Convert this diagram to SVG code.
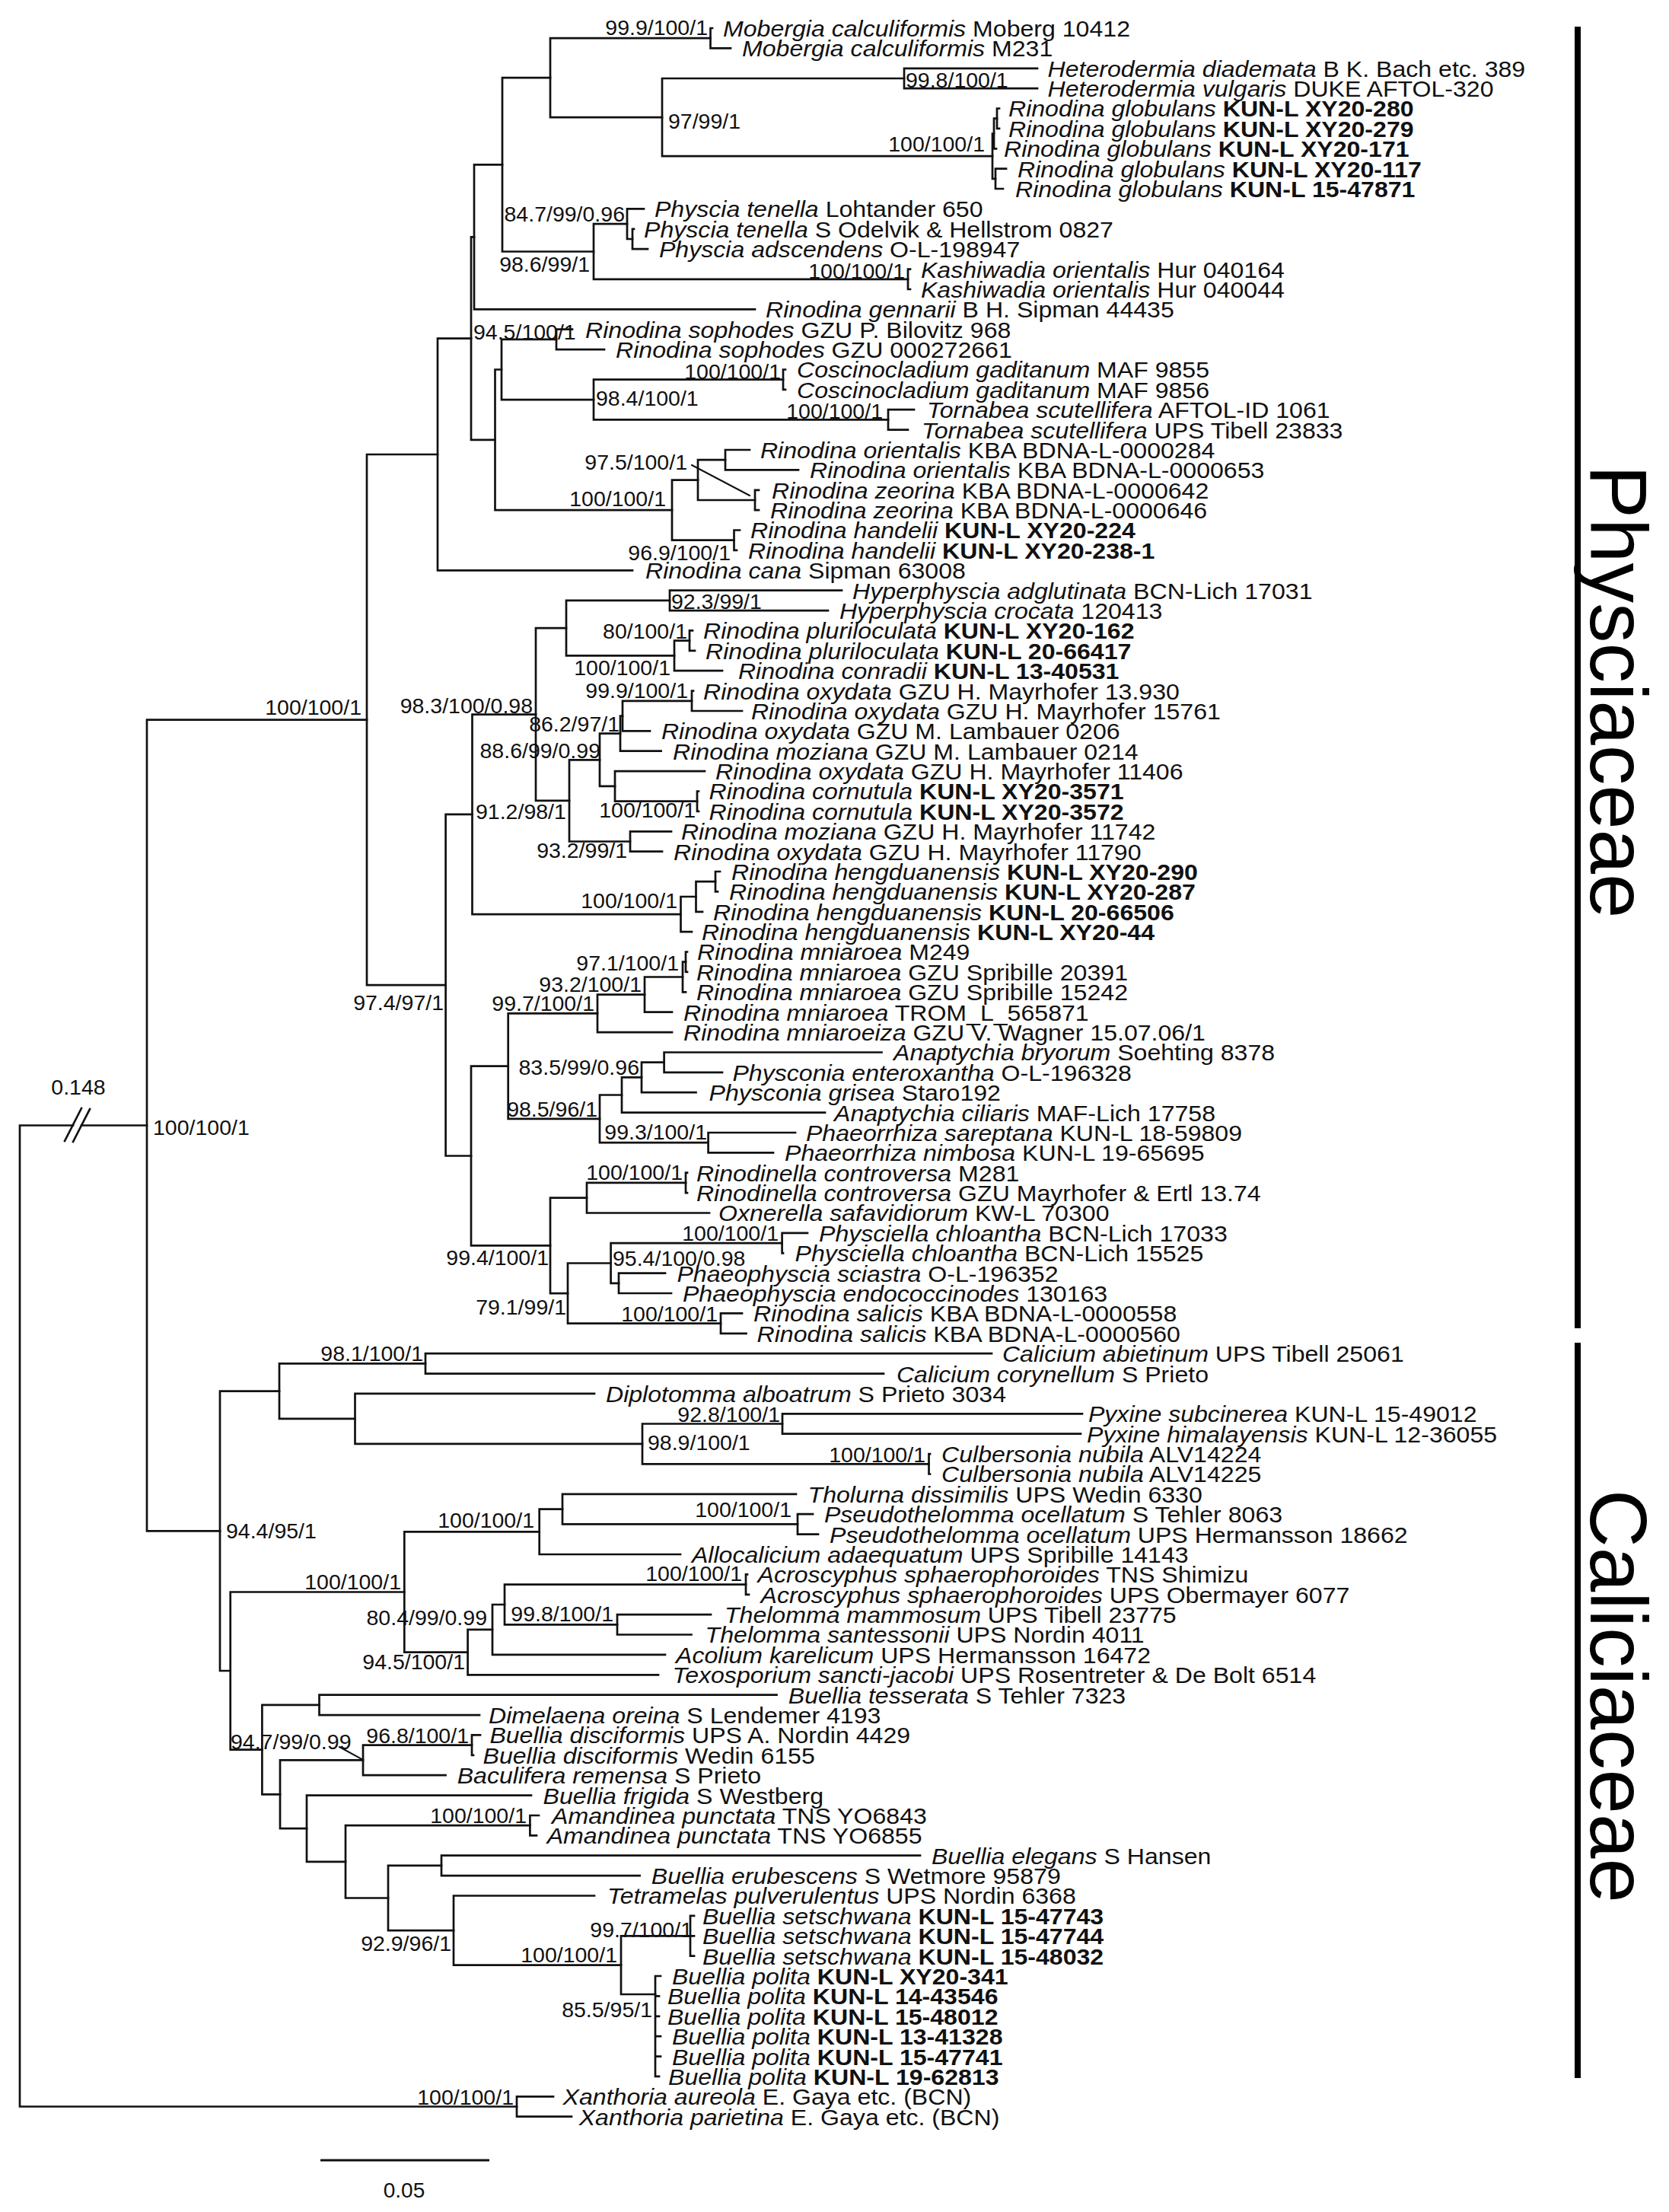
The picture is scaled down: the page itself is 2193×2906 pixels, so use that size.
<svg xmlns="http://www.w3.org/2000/svg" width="2193" height="2906" viewBox="0 0 2193 2906">
<style>
.b{stroke:#111;stroke-width:2.7;fill:none;stroke-linecap:square}
.ld{stroke:#111;stroke-width:2;fill:none}
.n{font-family:"Liberation Sans",Arial,sans-serif;font-size:28.5px;fill:#111}
.t{font-family:"Liberation Sans",Arial,sans-serif;font-size:30px;fill:#111}
.i{font-style:italic}
.k{font-weight:bold}
.fam{font-family:"Liberation Sans",Arial,sans-serif;font-size:105px;fill:#000}
</style>
<rect width="2193" height="2906" fill="#fff"/>
<g id="connectors" class="b">
<path d="M26 1478.5V2767.5M26 1478.5H96M107 1478.5H193M26 2767.5H679"/>
<path d="M85 1499L107 1456M96 1500L118 1457"/>
<path d="M193 945.6V2011.4M193 945.6H482M193 2011.4H289"/>
<path d="M482 597V1294.2M482 597H575M482 1294.2H585.6"/>
<path d="M575 444.6V749.3M575 444.6H619M575 749.3H831"/>
<path d="M619 311.4V577.9M619 311.4H623M619 577.9H650.5"/>
<path d="M623 216.4V406.3M623 216.4H660M623 406.3H992"/>
<path d="M660 102.2V330.5M660 102.2H723M660 330.5H780"/>
<path d="M723 50.2V154.1M723 50.2H933.5M723 154.1H870"/>
<path d="M933.5 37V63.4M933.5 37H936M933.5 63.4H960"/>
<path d="M870 103V205.2M870 103H1188M870 205.2H1304"/>
<path d="M1188 89.8V116.1M1188 89.8H1363M1188 116.1H1363"/>
<path d="M1304 175.5V234.9M1304 175.5H1306M1304 234.9H1308"/>
<path d="M1306 155.7V195.3M1306 155.7H1310M1306 195.3H1309"/>
<path d="M1310 142.5V168.9M1310 142.5H1313M1310 168.9H1313"/>
<path d="M1308 221.7V248M1308 221.7H1322M1308 248H1318"/>
<path d="M780 294.2V366.8M780 294.2H824M780 366.8H1193"/>
<path d="M824 274.4V314M824 274.4H846M824 314H831"/>
<path d="M831 300.8V327.2M831 300.8H833M831 327.2H851"/>
<path d="M1193 353.6V380M1193 353.6H1196M1193 380H1196"/>
<path d="M650.5 485.5V670.2M650.5 485.5H659M650.5 670.2H883"/>
<path d="M659 445.9V525.1M659 445.9H731M659 525.1H780"/>
<path d="M731 432.7V459.1M731 432.7H752M731 459.1H794"/>
<path d="M780 498.7V551.4M780 498.7H1029M780 551.4H1167"/>
<path d="M1029 485.5V511.9M1029 485.5H1032M1029 511.9H1032"/>
<path d="M1167 538.2V564.6M1167 538.2H1201M1167 564.6H1193"/>
<path d="M883 630.6V709.7M883 630.6H917M883 709.7H964.5"/>
<path d="M917 604.2V657M917 604.2H953M917 657H992"/>
<path d="M953 591V617.4M953 591H985M953 617.4H1049"/>
<path d="M992 643.8V670.1M992 643.8H997M992 670.1H997"/>
<path d="M964.5 696.5V722.9M964.5 696.5H972M964.5 722.9H968"/>
<path d="M585.6 1069.9V1518.5M585.6 1069.9H620.5M585.6 1518.5H619"/>
<path d="M620.5 938.6V1201.1M620.5 938.6H704M620.5 1201.1H894.5"/>
<path d="M704 825.2V1051.9M704 825.2H744M704 1051.9H748"/>
<path d="M744 788.9V861.4M744 788.9H880M744 861.4H886"/>
<path d="M880 775.7V802.1M880 775.7H1106M880 802.1H1088"/>
<path d="M886 841.6V881.2M886 841.6H906M886 881.2H949"/>
<path d="M906 828.4V854.8M906 828.4H910M906 854.8H913"/>
<path d="M748 998.3V1105.5M748 998.3H788M748 1105.5H828"/>
<path d="M788 963.6V1032.9M788 963.6H815M788 1032.9H808"/>
<path d="M815 940.6V986.7M815 940.6H818M815 986.7H868.6"/>
<path d="M818 920.8V960.3M818 920.8H909M818 960.3H854"/>
<path d="M909 907.6V934M909 907.6H911M909 934H975"/>
<path d="M808 1013.1V1052.7M808 1013.1H926M808 1052.7H916"/>
<path d="M916 1039.5V1065.9M916 1039.5H918M916 1065.9H918"/>
<path d="M828 1092.3V1118.6M828 1092.3H882M828 1118.6H870"/>
<path d="M894.5 1178V1224.2M894.5 1178H914.5M894.5 1224.2H909"/>
<path d="M914.5 1158.2V1197.8M914.5 1158.2H940M914.5 1197.8H923"/>
<path d="M940 1145V1171.4M940 1145H946M940 1171.4H943"/>
<path d="M619 1400.6V1636.4M619 1400.6H667.7M619 1636.4H723"/>
<path d="M667.7 1331.3V1469.9M667.7 1331.3H785M667.7 1469.9H788"/>
<path d="M785 1306.6V1356.1M785 1306.6H847M785 1356.1H883"/>
<path d="M847 1283.5V1329.7M847 1283.5H897M847 1329.7H883"/>
<path d="M897 1263.7V1303.3M897 1263.7H901M897 1303.3H901"/>
<path d="M901 1250.5V1276.9M901 1250.5H903M901 1276.9H903"/>
<path d="M788 1438.5V1501.2M788 1438.5H817M788 1501.2H930.6"/>
<path d="M817 1415.4V1461.6M817 1415.4H843M817 1461.6H1084"/>
<path d="M843 1395.6V1435.2M843 1395.6H872.6M843 1435.2H914.5"/>
<path d="M872.6 1382.5V1408.8M872.6 1382.5H1158.5M872.6 1408.8H949"/>
<path d="M930.6 1488V1514.4M930.6 1488H1045M930.6 1514.4H1016"/>
<path d="M723 1573.7V1699.1M723 1573.7H771M723 1699.1H746"/>
<path d="M771 1553.9V1593.5M771 1553.9H901M771 1593.5H932"/>
<path d="M901 1540.7V1567.1M901 1540.7H903M901 1567.1H903"/>
<path d="M746 1659.5V1738.6M746 1659.5H802.6M746 1738.6H947"/>
<path d="M802.6 1633.1V1685.9M802.6 1633.1H1027.6M802.6 1685.9H813"/>
<path d="M1027.6 1619.9V1646.3M1027.6 1619.9H1061M1027.6 1646.3H1029"/>
<path d="M813 1672.7V1699M813 1672.7H874M813 1699H882"/>
<path d="M947 1725.4V1751.8M947 1725.4H975M947 1751.8H980.5"/>
<path d="M289 1827.7V2195M289 1827.7H367M289 2195H302.7"/>
<path d="M367 1791.4V1863.9M367 1791.4H559M367 1863.9H466.5"/>
<path d="M559 1778.2V1804.6M559 1778.2H1303M559 1804.6H1161"/>
<path d="M466.5 1830.9V1896.9M466.5 1830.9H781M466.5 1896.9H844"/>
<path d="M844 1870.5V1923.3M844 1870.5H1028M844 1923.3H1220.5"/>
<path d="M1028 1857.3V1883.7M1028 1857.3H1422M1028 1883.7H1420"/>
<path d="M1220.5 1910.1V1936.5M1220.5 1910.1H1222M1220.5 1936.5H1222"/>
<path d="M302.7 2091.5V2298.6M302.7 2091.5H531.3M302.7 2298.6H344.4"/>
<path d="M531.3 2012.3V2170.6M531.3 2012.3H708.7M531.3 2170.6H614.6"/>
<path d="M708.7 1982.7V2042M708.7 1982.7H739M708.7 2042H894"/>
<path d="M739 1962.9V2002.4M739 1962.9H1046M739 2002.4H1048"/>
<path d="M1048 1989.2V2015.6M1048 1989.2H1068M1048 2015.6H1075"/>
<path d="M614.6 2140.9V2200.3M614.6 2140.9H647M614.6 2200.3H865"/>
<path d="M647 2108V2173.9M647 2108H663M647 2173.9H874"/>
<path d="M663 2081.6V2134.3M663 2081.6H980M663 2134.3H811"/>
<path d="M980 2068.4V2094.8M980 2068.4H982M980 2094.8H984"/>
<path d="M811 2121.1V2147.5M811 2121.1H934M811 2147.5H908.5"/>
<path d="M344.4 2239.9V2357.3M344.4 2239.9H419.5M344.4 2357.3H368"/>
<path d="M419.5 2226.7V2253.1M419.5 2226.7H1020.5M419.5 2253.1H630"/>
<path d="M368 2312.4V2402.2M368 2312.4H477M368 2402.2H403"/>
<path d="M477 2292.6V2332.2M477 2292.6H620M477 2332.2H585.5"/>
<path d="M620 2279.4V2305.8M620 2279.4H631M620 2305.8H622"/>
<path d="M403 2358.6V2445.9M403 2358.6H698M403 2445.9H454"/>
<path d="M454 2398.2V2493.5M454 2398.2H696.4M454 2493.5H510"/>
<path d="M696.4 2385V2411.4M696.4 2385H708M696.4 2411.4H705"/>
<path d="M510 2450.9V2536.1M510 2450.9H580M510 2536.1H596"/>
<path d="M580 2437.7V2464.1M580 2437.7H1209M580 2464.1H840.6"/>
<path d="M596 2490.5V2581.7M596 2490.5H781M596 2581.7H816"/>
<path d="M816 2543.3V2620M816 2543.3H907M816 2620H861"/>
<path d="M907 2516.9V2569.6M907 2516.9H912M907 2543.3H912M907 2569.6H912"/>
<path d="M861 2596V2727.9M861 2596H868M861 2622.4H866M861 2648.8H866M861 2675.2H868M861 2701.6H868M861 2727.9H866"/>
<path d="M679 2754.3V2780.7M679 2754.3H727M679 2780.7H751"/>
<path class="ld" d="M909 611L985 651M446 2295L475 2311"/>
</g>
<g id="support-labels" class="n">
<text x="103" y="1438" text-anchor="middle">0.148</text>
<text x="201" y="1491">100/100/1</text>
<text x="475" y="939" text-anchor="end">100/100/1</text>
<text x="930" y="46" text-anchor="end">99.9/100/1</text>
<text x="1190" y="115">99.8/100/1</text>
<text x="878" y="169">97/99/1</text>
<text x="1294" y="199" text-anchor="end">100/100/1</text>
<text x="821" y="291" text-anchor="end">84.7/99/0.96</text>
<text x="775" y="357" text-anchor="end">98.6/99/1</text>
<text x="1189" y="366" text-anchor="end">100/100/1</text>
<text x="622" y="446">94.5/100/1</text>
<text x="1026" y="498" text-anchor="end">100/100/1</text>
<text x="783" y="533">98.4/100/1</text>
<text x="1160" y="550" text-anchor="end">100/100/1</text>
<text x="903" y="617" text-anchor="end">97.5/100/1</text>
<text x="875" y="665" text-anchor="end">100/100/1</text>
<text x="960" y="736" text-anchor="end">96.9/100/1</text>
<text x="882" y="800">92.3/99/1</text>
<text x="903" y="839" text-anchor="end">80/100/1</text>
<text x="881" y="887" text-anchor="end">100/100/1</text>
<text x="700" y="937" text-anchor="end">98.3/100/0.98</text>
<text x="904" y="917" text-anchor="end">99.9/100/1</text>
<text x="814" y="961" text-anchor="end">86.2/97/1</text>
<text x="789" y="996" text-anchor="end">88.6/99/0.99</text>
<text x="625" y="1076">91.2/98/1</text>
<text x="914" y="1074" text-anchor="end">100/100/1</text>
<text x="824" y="1127" text-anchor="end">93.2/99/1</text>
<text x="890" y="1193" text-anchor="end">100/100/1</text>
<text x="583" y="1327" text-anchor="end">97.4/97/1</text>
<text x="892" y="1275" text-anchor="end">97.1/100/1</text>
<text x="843" y="1303" text-anchor="end">93.2/100/1</text>
<text x="781" y="1328" text-anchor="end">99.7/100/1</text>
<text x="840" y="1412" text-anchor="end">83.5/99/0.96</text>
<text x="785" y="1467" text-anchor="end">98.5/96/1</text>
<text x="929" y="1497" text-anchor="end">99.3/100/1</text>
<text x="897" y="1550" text-anchor="end">100/100/1</text>
<text x="1023" y="1630" text-anchor="end">100/100/1</text>
<text x="805" y="1663">95.4/100/0.98</text>
<text x="721" y="1662" text-anchor="end">99.4/100/1</text>
<text x="744" y="1727" text-anchor="end">79.1/99/1</text>
<text x="943" y="1736" text-anchor="end">100/100/1</text>
<text x="556" y="1788" text-anchor="end">98.1/100/1</text>
<text x="1025" y="1868" text-anchor="end">92.8/100/1</text>
<text x="851" y="1905">98.9/100/1</text>
<text x="1216" y="1921" text-anchor="end">100/100/1</text>
<text x="297" y="2021">94.4/95/1</text>
<text x="702" y="2007" text-anchor="end">100/100/1</text>
<text x="527" y="2088" text-anchor="end">100/100/1</text>
<text x="1040" y="1993" text-anchor="end">100/100/1</text>
<text x="975" y="2077" text-anchor="end">100/100/1</text>
<text x="806" y="2130" text-anchor="end">99.8/100/1</text>
<text x="640" y="2135" text-anchor="end">80.4/99/0.99</text>
<text x="611" y="2193" text-anchor="end">94.5/100/1</text>
<text x="303" y="2298">94.7/99/0.99</text>
<text x="616" y="2290" text-anchor="end">96.8/100/1</text>
<text x="692" y="2395" text-anchor="end">100/100/1</text>
<text x="593" y="2563" text-anchor="end">92.9/96/1</text>
<text x="910" y="2545" text-anchor="end">99.7/100/1</text>
<text x="811" y="2578" text-anchor="end">100/100/1</text>
<text x="857" y="2650" text-anchor="end">85.5/95/1</text>
<text x="675" y="2765" text-anchor="end">100/100/1</text>
</g>
<g id="taxa" class="t" transform="scale(1.07 1)">
<g id="taxon-1"><text x="887.9" y="48"><tspan class="i">Mobergia calculiformis</tspan> Moberg 10412</text></g>
<g id="taxon-2"><text x="911.2" y="74.4"><tspan class="i">Mobergia calculiformis</tspan> M231</text></g>
<g id="taxon-3"><text x="1286.5" y="100.8"><tspan class="i">Heterodermia diademata</tspan> B K. Bach etc. 389</text></g>
<g id="taxon-4"><text x="1286.5" y="127.1"><tspan class="i">Heterodermia vulgaris</tspan> DUKE AFTOL-320</text></g>
<g id="taxon-5"><text x="1238.3" y="153.5"><tspan class="i">Rinodina globulans</tspan> <tspan class="k">KUN-L XY20-280</tspan></text></g>
<g id="taxon-6"><text x="1238.3" y="179.9"><tspan class="i">Rinodina globulans</tspan> <tspan class="k">KUN-L XY20-279</tspan></text></g>
<g id="taxon-7"><text x="1232.7" y="206.3"><tspan class="i">Rinodina globulans</tspan> <tspan class="k">KUN-L XY20-171</tspan></text></g>
<g id="taxon-8"><text x="1249.5" y="232.7"><tspan class="i">Rinodina globulans</tspan> <tspan class="k">KUN-L XY20-117</tspan></text></g>
<g id="taxon-9"><text x="1246.7" y="259"><tspan class="i">Rinodina globulans</tspan> <tspan class="k">KUN-L 15-47871</tspan></text></g>
<g id="taxon-10"><text x="803.7" y="285.4"><tspan class="i">Physcia tenella</tspan> Lohtander 650</text></g>
<g id="taxon-11"><text x="790.7" y="311.8"><tspan class="i">Physcia tenella</tspan> S Odelvik &amp; Hellstrom 0827</text></g>
<g id="taxon-12"><text x="809.3" y="338.2"><tspan class="i">Physcia adscendens</tspan> O-L-198947</text></g>
<g id="taxon-13"><text x="1130.8" y="364.6"><tspan class="i">Kashiwadia orientalis</tspan> Hur 040164</text></g>
<g id="taxon-14"><text x="1130.8" y="391"><tspan class="i">Kashiwadia orientalis</tspan> Hur 040044</text></g>
<g id="taxon-15"><text x="940.2" y="417.3"><tspan class="i">Rinodina gennarii</tspan> B H. Sipman 44435</text></g>
<g id="taxon-16"><text x="718.7" y="443.7"><tspan class="i">Rinodina sophodes</tspan> GZU P. Bilovitz 968</text></g>
<g id="taxon-17"><text x="756.1" y="470.1"><tspan class="i">Rinodina sophodes</tspan> GZU 000272661</text></g>
<g id="taxon-18"><text x="978.5" y="496.5"><tspan class="i">Coscinocladium gaditanum</tspan> MAF 9855</text></g>
<g id="taxon-19"><text x="978.5" y="522.9"><tspan class="i">Coscinocladium gaditanum</tspan> MAF 9856</text></g>
<g id="taxon-20"><text x="1138.3" y="549.2"><tspan class="i">Tornabea scutellifera</tspan> AFTOL-ID 1061</text></g>
<g id="taxon-21"><text x="1131.8" y="575.6"><tspan class="i">Tornabea scutellifera</tspan> UPS Tibell 23833</text></g>
<g id="taxon-22"><text x="933.6" y="602"><tspan class="i">Rinodina orientalis</tspan> KBA BDNA-L-0000284</text></g>
<g id="taxon-23"><text x="994.4" y="628.4"><tspan class="i">Rinodina orientalis</tspan> KBA BDNA-L-0000653</text></g>
<g id="taxon-24"><text x="947.7" y="654.8"><tspan class="i">Rinodina zeorina</tspan> KBA BDNA-L-0000642</text></g>
<g id="taxon-25"><text x="945.8" y="681.1"><tspan class="i">Rinodina zeorina</tspan> KBA BDNA-L-0000646</text></g>
<g id="taxon-26"><text x="921.5" y="707.5"><tspan class="i">Rinodina handelii</tspan> <tspan class="k">KUN-L XY20-224</tspan></text></g>
<g id="taxon-27"><text x="918.7" y="733.9"><tspan class="i">Rinodina handelii</tspan> <tspan class="k">KUN-L XY20-238-1</tspan></text></g>
<g id="taxon-28"><text x="792.5" y="760.3"><tspan class="i">Rinodina cana</tspan> Sipman 63008</text></g>
<g id="taxon-29"><text x="1046.7" y="786.7"><tspan class="i">Hyperphyscia adglutinata</tspan> BCN-Lich 17031</text></g>
<g id="taxon-30"><text x="1030.8" y="813.1"><tspan class="i">Hyperphyscia crocata</tspan> 120413</text></g>
<g id="taxon-31"><text x="863.6" y="839.4"><tspan class="i">Rinodina pluriloculata</tspan> <tspan class="k">KUN-L XY20-162</tspan></text></g>
<g id="taxon-32"><text x="866.4" y="865.8"><tspan class="i">Rinodina pluriloculata</tspan> <tspan class="k">KUN-L 20-66417</tspan></text></g>
<g id="taxon-33"><text x="906.5" y="892.2"><tspan class="i">Rinodina conradii</tspan> <tspan class="k">KUN-L 13-40531</tspan></text></g>
<g id="taxon-34"><text x="863.6" y="918.6"><tspan class="i">Rinodina oxydata</tspan> GZU H. Mayrhofer 13.930</text></g>
<g id="taxon-35"><text x="922.4" y="945"><tspan class="i">Rinodina oxydata</tspan> GZU H. Mayrhofer 15761</text></g>
<g id="taxon-36"><text x="812.1" y="971.3"><tspan class="i">Rinodina oxydata</tspan> GZU M. Lambauer 0206</text></g>
<g id="taxon-37"><text x="826.2" y="997.7"><tspan class="i">Rinodina moziana</tspan> GZU M. Lambauer 0214</text></g>
<g id="taxon-38"><text x="878.5" y="1024.1"><tspan class="i">Rinodina oxydata</tspan> GZU H. Mayrhofer 11406</text></g>
<g id="taxon-39"><text x="870.6" y="1050.5"><tspan class="i">Rinodina cornutula</tspan> <tspan class="k">KUN-L XY20-3571</tspan></text></g>
<g id="taxon-40"><text x="870.6" y="1076.9"><tspan class="i">Rinodina cornutula</tspan> <tspan class="k">KUN-L XY20-3572</tspan></text></g>
<g id="taxon-41"><text x="836.4" y="1103.3"><tspan class="i">Rinodina moziana</tspan> GZU H. Mayrhofer 11742</text></g>
<g id="taxon-42"><text x="827.1" y="1129.6"><tspan class="i">Rinodina oxydata</tspan> GZU H. Mayrhofer 11790</text></g>
<g id="taxon-43"><text x="898.1" y="1156"><tspan class="i">Rinodina hengduanensis</tspan> <tspan class="k">KUN-L XY20-290</tspan></text></g>
<g id="taxon-44"><text x="895.3" y="1182.4"><tspan class="i">Rinodina hengduanensis</tspan> <tspan class="k">KUN-L XY20-287</tspan></text></g>
<g id="taxon-45"><text x="875.7" y="1208.8"><tspan class="i">Rinodina hengduanensis</tspan> <tspan class="k">KUN-L 20-66506</tspan></text></g>
<g id="taxon-46"><text x="861.7" y="1235.2"><tspan class="i">Rinodina hengduanensis</tspan> <tspan class="k">KUN-L XY20-44</tspan></text></g>
<g id="taxon-47"><text x="856.1" y="1261.5"><tspan class="i">Rinodina mniaroea</tspan> M249</text></g>
<g id="taxon-48"><text x="855.1" y="1287.9"><tspan class="i">Rinodina mniaroea</tspan> GZU Spribille 20391</text></g>
<g id="taxon-49"><text x="855.1" y="1314.3"><tspan class="i">Rinodina mniaroea</tspan> GZU Spribille 15242</text></g>
<g id="taxon-50"><text x="839.3" y="1340.7"><tspan class="i">Rinodina mniaroea</tspan> TROM_L_565871</text></g>
<g id="taxon-51"><text x="839.3" y="1367.1"><tspan class="i">Rinodina mniaroeiza</tspan> GZU V. Wagner 15.07.06/1</text></g>
<g id="taxon-52"><text x="1097.2" y="1393.5"><tspan class="i">Anaptychia bryorum</tspan> Soehting 8378</text></g>
<g id="taxon-53"><text x="899.5" y="1419.8"><tspan class="i">Physconia enteroxantha</tspan> O-L-196328</text></g>
<g id="taxon-54"><text x="870.6" y="1446.2"><tspan class="i">Physconia grisea</tspan> Staro192</text></g>
<g id="taxon-55"><text x="1024.3" y="1472.6"><tspan class="i">Anaptychia ciliaris</tspan> MAF-Lich 17758</text></g>
<g id="taxon-56"><text x="989.7" y="1499"><tspan class="i">Phaeorrhiza sareptana</tspan> KUN-L 18-59809</text></g>
<g id="taxon-57"><text x="963.6" y="1525.4"><tspan class="i">Phaeorrhiza nimbosa</tspan> KUN-L 19-65695</text></g>
<g id="taxon-58"><text x="855.1" y="1551.7"><tspan class="i">Rinodinella controversa</tspan> M281</text></g>
<g id="taxon-59"><text x="855.1" y="1578.1"><tspan class="i">Rinodinella controversa</tspan> GZU Mayrhofer &amp; Ertl 13.74</text></g>
<g id="taxon-60"><text x="882.2" y="1604.5"><tspan class="i">Oxnerella safavidiorum</tspan> KW-L 70300</text></g>
<g id="taxon-61"><text x="1005.6" y="1630.9"><tspan class="i">Physciella chloantha</tspan> BCN-Lich 17033</text></g>
<g id="taxon-62"><text x="976.2" y="1657.3"><tspan class="i">Physciella chloantha</tspan> BCN-Lich 15525</text></g>
<g id="taxon-63"><text x="831.3" y="1683.7"><tspan class="i">Phaeophyscia sciastra</tspan> O-L-196352</text></g>
<g id="taxon-64"><text x="838.3" y="1710"><tspan class="i">Phaeophyscia endococcinodes</tspan> 130163</text></g>
<g id="taxon-65"><text x="925.2" y="1736.4"><tspan class="i">Rinodina salicis</tspan> KBA BDNA-L-0000558</text></g>
<g id="taxon-66"><text x="929.5" y="1762.8"><tspan class="i">Rinodina salicis</tspan> KBA BDNA-L-0000560</text></g>
<g id="taxon-67"><text x="1230.8" y="1789.2"><tspan class="i">Calicium abietinum</tspan> UPS Tibell 25061</text></g>
<g id="taxon-68"><text x="1100.9" y="1815.6"><tspan class="i">Calicium corynellum</tspan> S Prieto</text></g>
<g id="taxon-69"><text x="743.9" y="1841.9"><tspan class="i">Diplotomma alboatrum</tspan> S Prieto 3034</text></g>
<g id="taxon-70"><text x="1336.4" y="1868.3"><tspan class="i">Pyxine subcinerea</tspan> KUN-L 15-49012</text></g>
<g id="taxon-71"><text x="1334.6" y="1894.7"><tspan class="i">Pyxine himalayensis</tspan> KUN-L 12-36055</text></g>
<g id="taxon-72"><text x="1156.1" y="1921.1"><tspan class="i">Culbersonia nubila</tspan> ALV14224</text></g>
<g id="taxon-73"><text x="1156.1" y="1947.5"><tspan class="i">Culbersonia nubila</tspan> ALV14225</text></g>
<g id="taxon-74"><text x="992.1" y="1973.9"><tspan class="i">Tholurna dissimilis</tspan> UPS Wedin 6330</text></g>
<g id="taxon-75"><text x="1012.1" y="2000.2"><tspan class="i">Pseudothelomma ocellatum</tspan> S Tehler 8063</text></g>
<g id="taxon-76"><text x="1018.7" y="2026.6"><tspan class="i">Pseudothelomma ocellatum</tspan> UPS Hermansson 18662</text></g>
<g id="taxon-77"><text x="849.5" y="2053"><tspan class="i">Allocalicium adaequatum</tspan> UPS Spribille 14143</text></g>
<g id="taxon-78"><text x="930.4" y="2079.4"><tspan class="i">Acroscyphus sphaerophoroides</tspan> TNS Shimizu</text></g>
<g id="taxon-79"><text x="934.1" y="2105.8"><tspan class="i">Acroscyphus sphaerophoroides</tspan> UPS Obermayer 6077</text></g>
<g id="taxon-80"><text x="889.7" y="2132.1"><tspan class="i">Thelomma mammosum</tspan> UPS Tibell 23775</text></g>
<g id="taxon-81"><text x="866" y="2158.5"><tspan class="i">Thelomma santessonii</tspan> UPS Nordin 4011</text></g>
<g id="taxon-82"><text x="829.9" y="2184.9"><tspan class="i">Acolium karelicum</tspan> UPS Hermansson 16472</text></g>
<g id="taxon-83"><text x="825.7" y="2211.3"><tspan class="i">Texosporium sancti-jacobi</tspan> UPS Rosentreter &amp; De Bolt 6514</text></g>
<g id="taxon-84"><text x="968" y="2237.7"><tspan class="i">Buellia tesserata</tspan> S Tehler 7323</text></g>
<g id="taxon-85"><text x="600" y="2264.1"><tspan class="i">Dimelaena oreina</tspan> S Lendemer 4193</text></g>
<g id="taxon-86"><text x="601.3" y="2290.4"><tspan class="i">Buellia disciformis</tspan> UPS A. Nordin 4429</text></g>
<g id="taxon-87"><text x="593" y="2316.8"><tspan class="i">Buellia disciformis</tspan> Wedin 6155</text></g>
<g id="taxon-88"><text x="561.4" y="2343.2"><tspan class="i">Baculifera remensa</tspan> S Prieto</text></g>
<g id="taxon-89"><text x="666.9" y="2369.6"><tspan class="i">Buellia frigida</tspan> S Westberg</text></g>
<g id="taxon-90"><text x="677.6" y="2396"><tspan class="i">Amandinea punctata</tspan> TNS YO6843</text></g>
<g id="taxon-91"><text x="671.7" y="2422.4"><tspan class="i">Amandinea punctata</tspan> TNS YO6855</text></g>
<g id="taxon-92"><text x="1143.9" y="2448.7"><tspan class="i">Buellia elegans</tspan> S Hansen</text></g>
<g id="taxon-93"><text x="799.8" y="2475.1"><tspan class="i">Buellia erubescens</tspan> S Wetmore 95879</text></g>
<g id="taxon-94"><text x="745.8" y="2501.5"><tspan class="i">Tetramelas pulverulentus</tspan> UPS Nordin 6368</text></g>
<g id="taxon-95"><text x="862.6" y="2527.9"><tspan class="i">Buellia setschwana</tspan> <tspan class="k">KUN-L 15-47743</tspan></text></g>
<g id="taxon-96"><text x="862.6" y="2554.3"><tspan class="i">Buellia setschwana</tspan> <tspan class="k">KUN-L 15-47744</tspan></text></g>
<g id="taxon-97"><text x="862.6" y="2580.6"><tspan class="i">Buellia setschwana</tspan> <tspan class="k">KUN-L 15-48032</tspan></text></g>
<g id="taxon-98"><text x="825.2" y="2607"><tspan class="i">Buellia polita</tspan> <tspan class="k">KUN-L XY20-341</tspan></text></g>
<g id="taxon-99"><text x="819.6" y="2633.4"><tspan class="i">Buellia polita</tspan> <tspan class="k">KUN-L 14-43546</tspan></text></g>
<g id="taxon-100"><text x="819.6" y="2659.8"><tspan class="i">Buellia polita</tspan> <tspan class="k">KUN-L 15-48012</tspan></text></g>
<g id="taxon-101"><text x="825.2" y="2686.2"><tspan class="i">Buellia polita</tspan> <tspan class="k">KUN-L 13-41328</tspan></text></g>
<g id="taxon-102"><text x="825.2" y="2712.6"><tspan class="i">Buellia polita</tspan> <tspan class="k">KUN-L 15-47741</tspan></text></g>
<g id="taxon-103"><text x="820.6" y="2738.9"><tspan class="i">Buellia polita</tspan> <tspan class="k">KUN-L 19-62813</tspan></text></g>
<g id="taxon-104"><text x="691.2" y="2765.3"><tspan class="i">Xanthoria aureola</tspan> E. Gaya etc. (BCN)</text></g>
<g id="taxon-105"><text x="710.9" y="2791.7"><tspan class="i">Xanthoria parietina</tspan> E. Gaya etc. (BCN)</text></g>
</g>
<g id="families">
<rect x="2069" y="35" width="8" height="1710" fill="#000"/>
<rect x="2069" y="1764" width="8" height="966" fill="#000"/>
<text class="fam" transform="translate(2090 611) rotate(90)">Physciaceae</text>
<text class="fam" transform="translate(2090 1957) rotate(90)">Caliciaceae</text>
</g>
<g id="scale-bar">
<path d="M421 2838H643" stroke="#111" stroke-width="3"/>
<text x="531" y="2887" text-anchor="middle" font-family="Liberation Sans, Arial, sans-serif" font-size="28" fill="#111">0.05</text>
</g>
</svg>
